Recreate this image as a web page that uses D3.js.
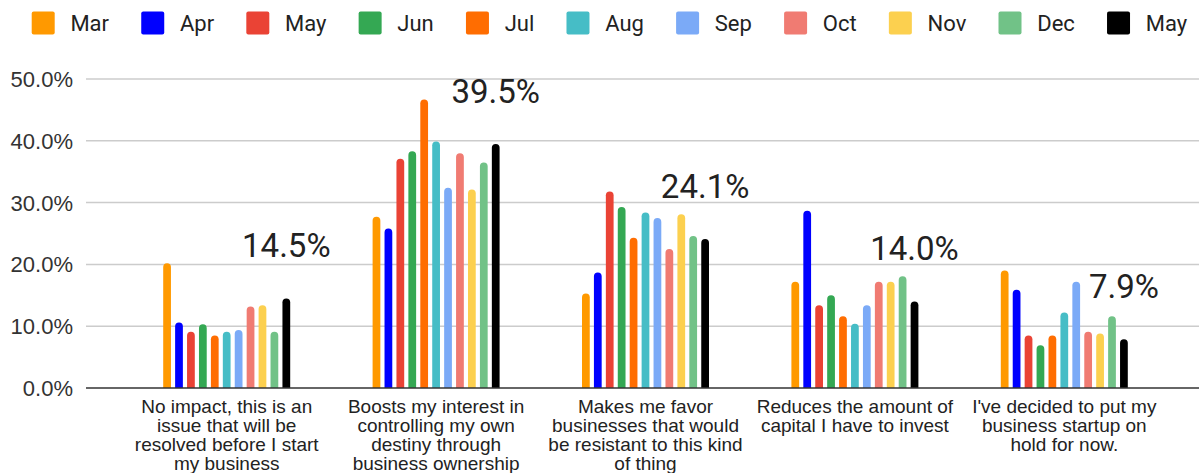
<!DOCTYPE html>
<html>
<head>
<meta charset="utf-8">
<script src="https://cdn.jsdelivr.net/npm/d3@7"></script>
<style>
  body { margin: 0; background: #fff; }
  svg { display: block; }
</style>
</head>
<body>
<svg id="chart" width="1199" height="473"></svg>
<script>
// category labels, already wrapped like the original
const categories = [
    ["No impact, this is an", "issue that will be", "resolved before I start", "my business"],
    ["Boosts my interest in", "controlling my own", "destiny through", "business ownership"],
    ["Makes me favor", "businesses that would", "be resistant to this kind", "of thing"],
    ["Reduces the amount of", "capital I have to invest"],
    ["I've decided to put my", "business startup on", "hold for now."]
];

const seriesNames = ["Mar", "Apr", "May", "Jun", "Jul", "Aug", "Sep", "Oct", "Nov", "Dec", "May"];
const seriesColors = ["#ff9900", "#0000ff", "#ea4335", "#34a853", "#ff6d01", "#46bdc6",
    "#7baaf7", "#f07b72", "#fcd04f", "#71c287", "#000000"];

// percent values, one entry per category
const marValues = [20.2, 27.7, 15.3, 17.2, 19.0];
const aprValues = [10.6, 25.8, 18.7, 28.7, 15.9];
const mayValues = [9.1, 37.1, 31.8, 13.4, 8.5];
const junValues = [10.3, 38.3, 29.3, 15.0, 6.9];
const julValues = [8.5, 46.7, 24.3, 11.6, 8.5];
const augValues = [9.1, 39.9, 28.4, 10.4, 12.2];
const sepValues = [9.4, 32.4, 27.5, 13.4, 17.2];
const octValues = [13.2, 38.0, 22.5, 17.2, 9.1];
const novValues = [13.4, 32.1, 28.1, 17.2, 8.8];
const decValues = [9.1, 36.5, 24.6, 18.1, 11.6];
const may2Values = [14.5, 39.5, 24.1, 14.0, 7.9];

const yTicks = [0, 10, 20, 30, 40, 50];

const allValues = [marValues, aprValues, mayValues, junValues, julValues, augValues,
    sepValues, octValues, novValues, decValues, may2Values];

const svg = d3.select("#chart");

const x0 = d3.scaleBand()
    .domain(d3.range(categories.length))
    .range([122, 1169]);

const x1 = d3.scaleBand()
    .domain(d3.range(seriesNames.length))
    .range([-63.5, 63.5])
    .paddingInner(0.35);

const y = d3.scaleLinear()
    .domain([0, 50])
    .range([388, 79]);

// gridlines
svg.append("g")
    .selectAll("line")
    .data(yTicks.filter(d => d > 0))
    .enter()
    .append("line")
    .attr("x1", 86)
    .attr("x2", 1199)
    .attr("y1", d => y(d))
    .attr("y2", d => y(d))
    .attr("stroke", "#cccccc")
    .attr("stroke-width", 1.5);

// y labels
svg.append("g")
    .selectAll("text")
    .data(yTicks)
    .enter()
    .append("text")
    .attr("x", 73)
    .attr("y", d => y(d))
    .attr("dy", "0.36em")
    .attr("text-anchor", "end")
    .attr("font-family", "Liberation Sans, Arial, sans-serif")
    .attr("font-size", 22)
    .attr("fill", "#333")
    .text(d => d.toFixed(1) + "%");

// bars with rounded tops
function barPath(cx, w, top, bottom) {
    const r = w / 2;
    const p = d3.path();
    p.moveTo(cx - r, bottom);
    p.lineTo(cx - r, Math.min(top + r, bottom));
    p.arc(cx, top + r, r, Math.PI, 0);
    p.lineTo(cx + r, bottom);
    p.closePath();
    return p.toString();
}

const groups = svg.append("g")
    .selectAll("g")
    .data(categories)
    .enter()
    .append("g")
    .attr("transform", (d, i) => `translate(${x0(i) + x0.bandwidth() / 2},0)`);

groups.selectAll("path")
    .data((d, i) => allValues.map((vals, s) => ({ s: s, v: vals[i] })))
    .enter()
    .append("path")
    .attr("d", d => barPath(x1(d.s) + x1.bandwidth() / 2, x1.bandwidth(), y(d.v), y(0)))
    .attr("fill", d => seriesColors[d.s]);

// annotations for the last series
groups.append("text")
    .attr("x", x1(seriesNames.length - 1) + x1.bandwidth() / 2)
    .attr("y", (d, i) => y(may2Values[i]) - 41)
    .attr("text-anchor", "middle")
    .attr("font-family", "Roboto, sans-serif")
    .attr("font-size", 33)
    .attr("fill", "#222")
    .text((d, i) => may2Values[i].toFixed(1) + "%");

// baseline
svg.append("line")
    .attr("x1", 86)
    .attr("x2", 1199)
    .attr("y1", y(0))
    .attr("y2", y(0))
    .attr("stroke", "#333")
    .attr("stroke-width", 1.5);

// category labels
groups.append("text")
    .attr("text-anchor", "middle")
    .attr("font-family", "Liberation Sans, Arial, sans-serif")
    .attr("font-size", 19)
    .attr("fill", "#222")
    .selectAll("tspan")
    .data(d => d)
    .enter()
    .append("tspan")
    .attr("x", 0)
    .attr("y", (d, i) => 413 + i * 19)
    .text(d => d);

// legend, laid out left to right
const legend = svg.append("g");
let lx = 31.7;
seriesNames.forEach((name, i) => {
    legend.append("rect")
        .attr("x", lx)
        .attr("y", 11.5)
        .attr("width", 23)
        .attr("height", 23)
        .attr("rx", 2)
        .attr("fill", seriesColors[i]);
    const t = legend.append("text")
        .attr("x", lx + 23 + 15.7)
        .attr("y", 30.7)
        .attr("font-family", "Roboto, sans-serif")
        .attr("font-size", 22)
        .attr("fill", "#222")
        .text(name);
    lx += 23 + 15.7 + t.node().getComputedTextLength() + 32.2;
});
</script>
</body>
</html>
